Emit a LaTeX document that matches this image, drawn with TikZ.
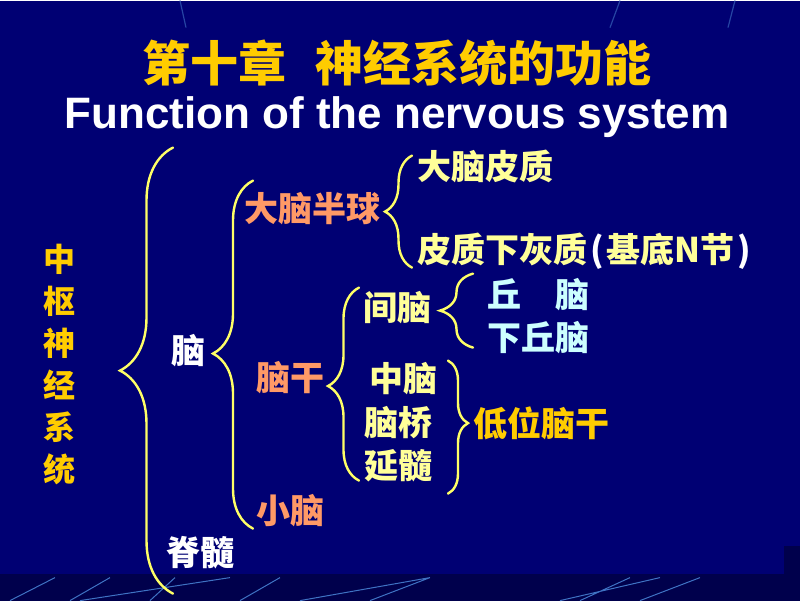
\documentclass[tikz,border=0pt]{standalone}
\usepackage{fontspec}
\setmainfont{Liberation Sans}
\newfontfamily\cjk{Noto Sans CJK SC}
\usepackage{tikz}
\usetikzlibrary{decorations.pathreplacing, positioning}
\definecolor{bgblue}{HTML}{000073}
\definecolor{bgdark}{HTML}{00004C}
\definecolor{streak}{HTML}{3F73C4}
\definecolor{gold}{HTML}{FFCC00}
\definecolor{paleyel}{HTML}{FFFF99}
\definecolor{salmon}{HTML}{FF9966}
\definecolor{icecyan}{HTML}{CCFFFF}
\definecolor{bracecol}{HTML}{FFFF66}
\tikzset{
	word/.style={inner sep=0pt, font=\cjk\bfseries\fontsize{34}{40}\selectfont},
	lbrc/.style={draw=bracecol, line width=2.4pt, line cap=round,
		decorate, decoration={brace, amplitude=#1}},
	rbrc/.style={draw=bracecol, line width=2.4pt, line cap=round,
		decorate, decoration={brace, amplitude=#1}},
}

\begin{document}
\begin{tikzpicture}[x=1pt,y=-1pt]
		% background
		\fill[bgblue] (0,0) rectangle (800,600);
		\fill[bgdark] (0,573) rectangle (800,600);
		\fill[bgdark] (784,545) rectangle (800,573);
		\draw[streak, line width=1pt] (10,600) -- (55,577) (70,600) -- (110,577)
			(80,600) -- (230,577) (150,600) -- (175,577) (240,600) -- (280,577)
			(300,600) -- (430,577) (370,600) -- (430,577) (580,600) -- (630,577)
			(640,600) -- (700,577) (560,600) -- (660,577);
		\draw[streak!60!bgblue, line width=1.2pt] (180,0) -- (186,27) (620,0) -- (610,27)
			(735,0) -- (728,27);
		
		\node (title) at (397,63) {\cjk\bfseries\fontsize{48}{52}\selectfont\color{gold}第十章\hspace{0.6em}神经系统的功能};
		\node (etitle) at (397,117) {\bfseries\fontsize{44}{48}\selectfont\color{white}Function of the nervous system};
		
		\node[word, text=gold, align=center, font=\cjk\bfseries\fontsize{32}{42}\selectfont] (zsj) at (59,364) {中\\枢\\神\\经\\系\\统};
		\node[word, text=white] (nao) at (188,350) {脑};
		\node[word, text=white] (jsui) at (200,552) {脊髓};
		\node[word, text=salmon] (dnbq) at (312,208) {大脑半球};
		\node[word, text=salmon] (ngan) at (290,377) {脑干};
		\node[word, text=salmon] (xnao) at (290,510) {小脑};
		\node[word, text=paleyel, anchor=west] (dnpz) at (417,166) {大脑皮质};
		\node[word, text=paleyel, anchor=west] (pzx) at (417,251) {皮质下灰质\hspace{3pt}{\color{white}(}\hspace{3pt}基底N节\hspace{3pt}{\color{white})}};
		\node[word, text=paleyel] (jnao) at (397,307) {间脑};
		\node[word, text=icecyan, anchor=west] (qnao) at (487,294) {丘\quad 脑};
		\node[word, text=icecyan, anchor=west] (xqn) at (487,337) {下丘脑};
		\node[word, text=paleyel] (znao) at (403,378) {中脑};
		\node[word, text=paleyel] (nqiao) at (398,422) {脑桥};
		\node[word, text=paleyel] (ysui) at (398,465) {延髓};
		\node[word, text=gold] (dwng) at (541,423) {低位脑干};
		
		% braces
		\draw[lbrc=53] (173,593) -- (173,147);
		\draw[lbrc=40, decoration={aspect=0.503}] (253,528) -- (253,180);
		\draw[lbrc=27] (412,267) -- (412,155);
		\draw[lbrc=33] (473,347) -- (473,273);
		\draw[lbrc=31, decoration={aspect=0.49}] (359,480) -- (359,287);
		\draw[rbrc=20, decoration={aspect=0.47}] (448,360) -- (448,493);
        \end{tikzpicture}
\end{document}
